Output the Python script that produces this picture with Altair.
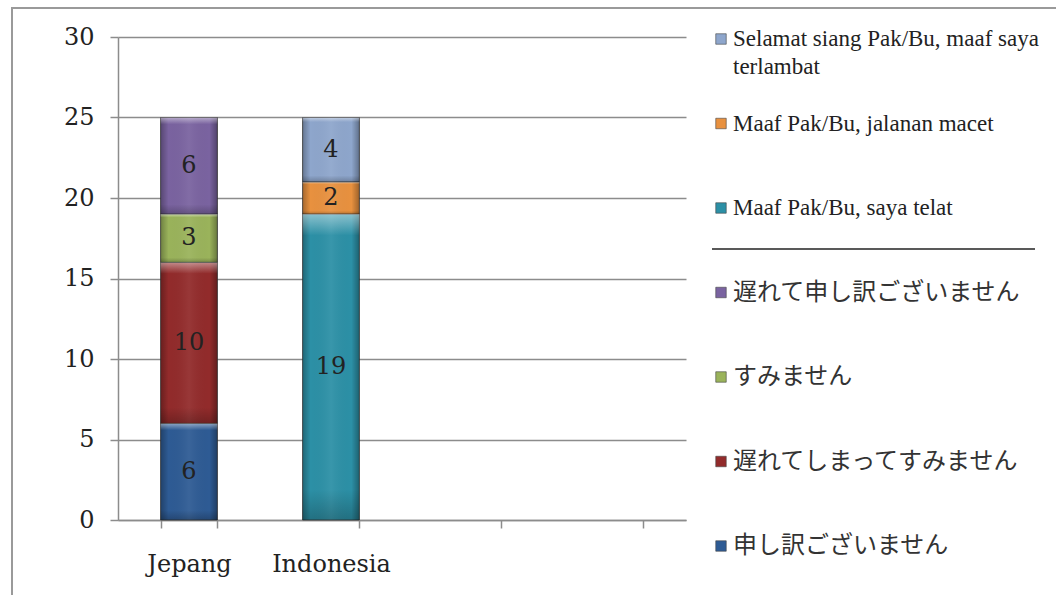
import altair as alt
import pandas as pd

# ---- data ----
categories = ["Jepang", "Indonesia", " ", "  "]
jp_series = ["申し訳ございません", "遅れてしまってすみません", "すみません", "遅れて申し訳ございません"]
jp_values = [6, 10, 3, 6]
id_series = ["Maaf Pak/Bu, saya telat", "Maaf Pak/Bu, jalanan macet",
             "Selamat siang Pak/Bu, maaf saya terlambat"]
id_values = [19, 2, 4]
legend_order = [id_series[2], id_series[1], id_series[0],
                jp_series[3], jp_series[2], jp_series[1], jp_series[0]]
legend_text = ["Selamat siang Pak/Bu, maaf saya|terlambat", "Maaf Pak/Bu, jalanan macet",
               "Maaf Pak/Bu, saya telat", "遅れて申し訳ございません", "すみません",
               "遅れてしまってすみません", "申し訳ございません"]
legend_group = ["id", "id", "id", "jp", "jp", "jp", "jp"]
colors = ["#8EA6CC", "#E8913F", "#2C90A6", "#7A63A0", "#9AB35B", "#922B2B", "#2E5B94"]
y_ticks = [0, 5, 10, 15, 20, 25, 30]

rows = []
for i, (s, v) in enumerate(zip(jp_series, jp_values)):
    rows.append({"category": "Jepang", "series": s, "value": v, "ord": i})
for i, (s, v) in enumerate(zip(id_series, id_values)):
    rows.append({"category": "Indonesia", "series": s, "value": v, "ord": i})
df = pd.DataFrame(rows)
leg_df = pd.DataFrame({"series": legend_order, "label": legend_text, "grp": legend_group})

GRAY = "#8c8c8c"
SERIF = "DejaVu Serif, serif"
LEGFONT = "'Liberation Serif', serif"
xscale = alt.Scale(domain=categories, paddingInner=0.6, paddingOuter=0.3)
yscale = alt.Scale(domain=[0, 30], nice=False)
cscale = alt.Scale(domain=legend_order, range=colors)

base_x = alt.X("category:N", scale=xscale, sort=categories,
               axis=alt.Axis(title=None, labelAngle=0, tickBand="extent", grid=False,
                             domainColor=GRAY, domainWidth=1.5, tickColor=GRAY, tickWidth=1.5,
                             tickSize=8, labelPadding=24, labelFont=SERIF,
                             labelFontSize=24, labelColor="#222222"))
base_y = alt.Y("value:Q", stack="zero", scale=yscale,
               axis=alt.Axis(title=None, values=y_ticks, grid=True, gridColor=GRAY, gridWidth=1.5,
                             domainColor=GRAY, domainWidth=1.5, tickColor=GRAY, tickWidth=1.5,
                             tickSize=8, labelPadding=16, labelFont=SERIF,
                             labelFontSize=24, labelColor="#222222"))

bars = alt.Chart(df).mark_bar(stroke="#333333", strokeWidth=0.8).encode(
    x=base_x, y=base_y,
    color=alt.Color("series:N", scale=cscale, legend=None),
    order=alt.Order("ord:Q"),
)

# bevel shading overlays (same bars, translucent gradients)
hgrad = alt.Gradient(gradient="linear", x1=0, x2=1, y1=0, y2=0, stops=[
    alt.GradientStop(color="rgba(0,0,0,0.28)", offset=0),
    alt.GradientStop(color="rgba(0,0,0,0)", offset=0.14),
    alt.GradientStop(color="rgba(255,255,255,0.06)", offset=0.5),
    alt.GradientStop(color="rgba(0,0,0,0)", offset=0.86),
    alt.GradientStop(color="rgba(0,0,0,0.32)", offset=1),
])
vgrad = alt.Gradient(gradient="linear", x1=0, x2=0, y1=0, y2=1, stops=[
    alt.GradientStop(color="rgba(255,255,255,0.45)", offset=0),
    alt.GradientStop(color="rgba(255,255,255,0)", offset=0.07),
    alt.GradientStop(color="rgba(0,0,0,0)", offset=0.9),
    alt.GradientStop(color="rgba(0,0,0,0.22)", offset=1),
])
shade_h = alt.Chart(df).mark_bar(fill=hgrad, strokeWidth=0).encode(
    x=alt.X("category:N", scale=xscale, sort=categories),
    y=alt.Y("value:Q", stack="zero", scale=yscale),
    detail="series:N", order=alt.Order("ord:Q"),
)
shade_v = alt.Chart(df).mark_bar(fill=vgrad, strokeWidth=0).encode(
    x=alt.X("category:N", scale=xscale, sort=categories),
    y=alt.Y("value:Q", stack="zero", scale=yscale),
    detail="series:N", order=alt.Order("ord:Q"),
)

values = alt.Chart(df).transform_window(
    cum="sum(value)", groupby=["category"], sort=[alt.SortField("ord")], frame=[None, 0]
).transform_calculate(mid="datum.cum - datum.value / 2").mark_text(
    font=SERIF, fontSize=24, color="#222222", baseline="middle"
).encode(
    x=alt.X("category:N", scale=xscale, sort=categories),
    y=alt.Y("mid:Q", scale=yscale),
    text="value:Q",
)

legy = alt.Scale(domain=legend_order, range=[2, 509], padding=0)
leg_sq = alt.Chart(leg_df).mark_square(size=110, stroke="#444444", strokeWidth=0.6, opacity=1).encode(
    x=alt.value(603),
    y=alt.Y("series:N", scale=legy, axis=None),
    color=alt.Color("series:N", scale=cscale, legend=None),
)
leg_id = alt.Chart(leg_df).transform_filter("datum.grp == 'id'").transform_calculate(
    lines="split(datum.label, '|')"
).mark_text(font=LEGFONT, fontSize=23, color="#222222", align="left",
            baseline="alphabetic", dy=7, lineHeight=28).encode(
    x=alt.value(615),
    y=alt.Y("series:N", scale=legy, axis=None),
    text="lines:N",
)
leg_jp = alt.Chart(leg_df).transform_filter("datum.grp == 'jp'").mark_text(
    font="Noto Sans CJK JP", fontSize=24, color="#333333", align="left", baseline="middle"
).encode(
    x=alt.value(615),
    y=alt.Y("series:N", scale=legy, axis=None),
    text="label:N",
)
sep = alt.Chart(pd.DataFrame({"k": [0]})).mark_rule(color="#222222", strokeWidth=1.5).encode(
    x=alt.value(594), x2=alt.value(917), y=alt.value(212)
)
border = alt.Chart(pd.DataFrame({"k": [0]})).mark_rect(
    fill=None, stroke="#9a9a9a", strokeWidth=2
).encode(x=alt.value(-106), x2=alt.value(950), y=alt.value(-29), y2=alt.value(570))

main = alt.layer(bars, shade_h, shade_v, values)
legend = alt.layer(leg_sq, leg_id, leg_jp)
chart = alt.layer(border, main, legend, sep).resolve_scale(y="independent").properties(
    width=568, height=483,
    autosize=alt.AutoSizeParams(type="none"),
    padding={"left": 118, "top": 37, "right": 370, "bottom": 75},
    background="white",
).configure_view(stroke=None)

chart.save("out.html", embed_options={"renderer": "svg", "actions": False})
